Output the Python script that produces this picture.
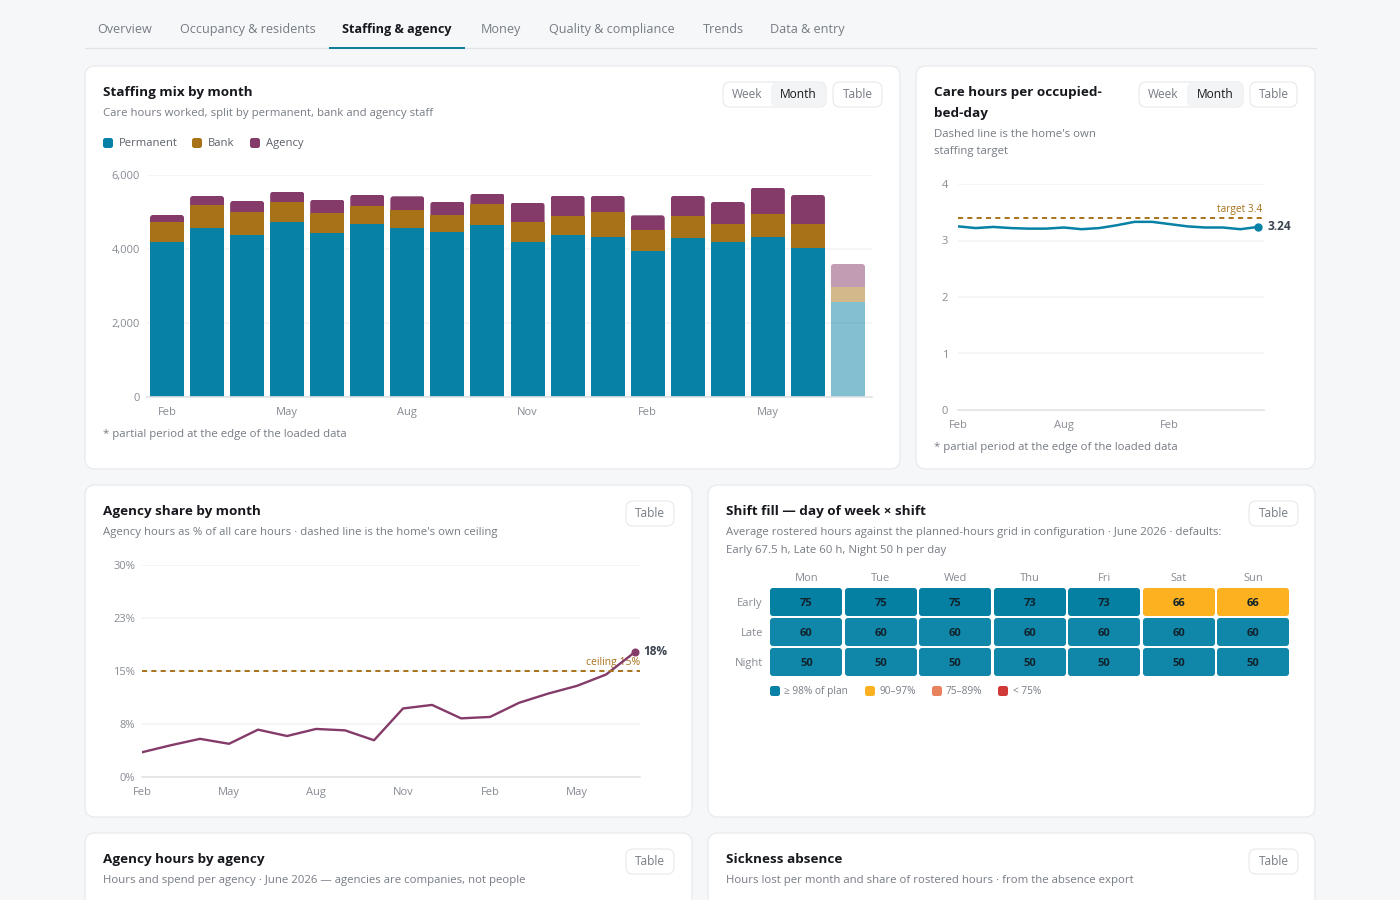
import numpy as np, pandas as pd, seaborn as sns
import matplotlib
matplotlib.use("Agg")
import matplotlib.pyplot as plt
from matplotlib.patches import FancyBboxPatch, Rectangle
from matplotlib.path import Path
from matplotlib.colors import ListedColormap, BoundaryNorm

months = ["Feb","Mar","Apr","May","Jun","Jul","Aug","Sep","Oct","Nov","Dec","Jan","Feb","Mar","Apr","May","Jun","Jul"]
permanent = [4198,4576,4387,4738,4441,4684,4576,4460,4649,4198,4387,4325,3954,4290,4198,4333,4036,2568]
bank = [541,614,622,541,541,470,478,468,560,541,505,668,551,595,470,605,632,405]
agency = [181,243,289,270,351,314,370,351,287,514,549,441,405,549,603,719,792,622]
care_hours = [3.25,3.22,3.24,3.22,3.21,3.21,3.23,3.20,3.22,3.27,3.33,3.33,3.29,3.25,3.23,3.23,3.20,3.24]
agency_share = [3.5,4.5,5.4,4.7,6.7,5.8,6.8,6.6,5.2,9.7,10.2,8.3,8.5,10.5,11.8,12.9,14.5,17.7]
days = ["Mon","Tue","Wed","Thu","Fri","Sat","Sun"]
shifts = ["Early","Late","Night"]
shift_hours = [[75,75,75,73,73,66,66],[60]*7,[50]*7]
plan_hours = [67.5,60,50]
tabs = ["Overview","Occupancy & residents","Staffing & agency","Money","Quality & compliance","Trends","Data & entry"]

TEAL, GOLD, PLUM = "#0781a5", "#a87218", "#843b69"
INK, MUTED, TICK = "#16181d", "#767c84", "#878c93"
GRID, AXIS, BORDER = "#f1f2f4", "#e1e3e6", "#e6e8eb"
FONT = "Open Sans"

sns.set_theme(style="white")
plt.rcParams["font.family"] = [FONT, "DejaVu Sans"]
fig = plt.figure(figsize=(14, 9), dpi=100, facecolor="#f6f7f9")

bg = fig.add_axes([0, 0, 1, 1], zorder=0)
bg.set_xlim(0, 1400); bg.set_ylim(900, 0); bg.axis("off")

def T(x, y, s, size=8.2, color=MUTED, weight="normal", ha="left"):
    bg.text(x, y + 0.8, s, fontsize=size, color=color, weight=weight, ha=ha, va="center")

def box(x0, y0, x1, y1, r=10, fc="white", ec=BORDER, lw=0.8):
    p = FancyBboxPatch((x0, y0), x1 - x0, y1 - y0, boxstyle=f"round,pad=0,rounding_size={r}",
                       fc=fc, ec=ec, lw=lw)
    bg.add_patch(p)
    return p

def round_path(x0, y0, x1, y1, r):
    return FancyBboxPatch((x0, y0), x1 - x0, y1 - y0,
                          boxstyle=f"round,pad=0,rounding_size={r}").get_path()

def to_px(ax, x, y):
    return bg.transData.inverted().transform(ax.transData.transform((x, y)))

def table_btn(x0, y0, x1):
    box(x0, y0, x1, y0 + 25, r=7)
    T((x0 + x1) / 2, y0 + 12, "Table", 8.6, MUTED, ha="center")

def seg(x0, xm, x1, y0):
    box(x0, y0, x1, y0 + 25, r=7)
    box(xm, y0 + .5, x1 - .5, y0 + 24.5, r=6, fc="#f3f4f5", ec="none")
    T((x0 + xm) / 2, y0 + 12, "Week", 8.6, MUTED, ha="center")
    T((xm + x1) / 2, y0 + 12, "Month", 8.6, INK, ha="center")

def px_ax(l, t, r, b):
    a = fig.add_axes([l / 1400, 1 - b / 900, (r - l) / 1400, (b - t) / 900], zorder=2)
    a.patch.set_alpha(0)
    for s in ("top", "left", "right"):
        a.spines[s].set_visible(False)
    a.spines["bottom"].set_color(AXIS); a.spines["bottom"].set_linewidth(1.2)
    a.grid(axis="y", color=GRID, lw=1.1); a.grid(axis="x", visible=False); a.set_axisbelow(True)
    a.tick_params(axis="both", length=0, labelsize=8, labelcolor=TICK)
    a.set_xlabel(""); a.set_ylabel("")
    return a

# tabs
tab_x = [97, 180, 342, 481, 549, 703, 770]
for i, (x, s) in enumerate(zip(tab_x, tabs)):
    T(x, 29, s, 9.1, INK if i == 2 else MUTED, "bold" if i == 2 else "normal")
bg.plot([85, 1316], [48, 48], color="#dfe2e6", lw=.9)
bg.add_patch(Rectangle((329, 47), 136, 2, fc="#0e7f96", ec="none", zorder=3))

# cards
box(85, 66, 900, 469); box(916, 66, 1315, 469)
box(85, 485, 692, 817); box(708, 485, 1315, 817)
box(85, 833, 692, 930); box(708, 833, 1315, 930)

seg(723, 771, 826, 82); table_btn(833, 82, 882)
seg(1139, 1187, 1243, 82); table_btn(1250, 82, 1297)
table_btn(626, 501, 674); table_btn(1249, 501, 1298)
table_btn(626, 849, 674); table_btn(1249, 849, 1298)

TS, SS = 9.7, 8.2
T(103, 92, "Staffing mix by month", TS, INK, "bold")
T(103, 113, "Care hours worked, split by permanent, bank and agency staff", SS)
T(934, 92, "Care hours per occupied-", TS, INK, "bold")
T(934, 113, "bed-day", TS, INK, "bold")
T(934, 134, "Dashed line is the home's own", SS)
T(934, 151, "staffing target", SS)
T(103, 511, "Agency share by month", TS, INK, "bold")
T(103, 532, "Agency hours as % of all care hours · dashed line is the home's own ceiling", SS)
T(726, 511, "Shift fill — day of week × shift", TS, INK, "bold")
T(726, 532, "Average rostered hours against the planned-hours grid in configuration · June 2026 · defaults:", SS)
T(726, 550, "Early 67.5 h, Late 60 h, Night 50 h per day", SS)
T(103, 859, "Agency hours by agency", TS, INK, "bold")
T(103, 880, "Hours and spend per agency · June 2026 — agencies are companies, not people", SS)
T(726, 859, "Sickness absence", TS, INK, "bold")
T(726, 880, "Hours lost per month and share of rostered hours · from the absence export", SS)
T(103, 434, "* partial period at the edge of the loaded data", SS)
T(934, 447, "* partial period at the edge of the loaded data", SS)

for x, tx, c, s in [(103, 119, TEAL, "Permanent"), (192, 208, GOLD, "Bank"), (250, 266, PLUM, "Agency")]:
    box(x, 138, x + 10, 148, r=2.5, fc=c, ec="none")
    T(tx, 143, s, 8.1, "#5b6068")

# stacked bars
a1 = px_ax(147, 175, 872, 397)
idx = list(range(len(months)))
perm, bnk, agn = np.array(permanent), np.array(bank), np.array(agency)
for vals, bottom, col in [(perm, 0 * perm, TEAL), (bnk, perm, GOLD), (agn, perm + bnk, PLUM)]:
    sns.barplot(x=idx, y=vals, bottom=bottom, color=col, saturation=1, width=0.85, ax=a1,
                native_scale=True, legend=False, linewidth=0)
for s in range(3):
    a1.patches[s * 18 + 17].set_alpha(0.5)
a1.set_xlim(-0.5, 17.6); a1.set_ylim(0, 6000)
a1.set_yticks([0, 2000, 4000, 6000], ["0", "2,000", "4,000", "6,000"])
a1.set_xticks(idx[::3], months[::3])
a1.tick_params(axis="x", pad=7); a1.tick_params(axis="y", pad=5)
# rounded tops, clipping the bars seaborn drew
for p in a1.patches[36:]:
    (xa, ya) = to_px(a1, p.get_x(), p.get_y() + p.get_height())
    (xb, yb) = to_px(a1, p.get_x() + p.get_width(), p.get_y())
    p.set_clip_path(round_path(xa, ya, xb, yb + 10, 3), bg.transData)

# care hours
a2 = px_ax(958, 184, 1264, 410)
sns.lineplot(x=idx, y=care_hours, color=TEAL, lw=1.8, ax=a2)
a2.axhline(3.4, color=GOLD, lw=1.4, dashes=(2.6, 2.2), xmax=304 / 306)
a2.plot(idx[-1], care_hours[-1], "o", color=TEAL, ms=5, clip_on=False)
a2.set_xlim(0, 17.34); a2.set_ylim(0, 4)
a2.set_yticks([0, 1, 2, 3, 4]); a2.set_xticks(idx[::6], months[::6])
a2.tick_params(axis="x", pad=7); a2.tick_params(axis="y", pad=7)
T(1262, 208.5, "target 3.4", 7.3, GOLD, ha="right")
T(1267, 226, "3.24", 8.6, "#3c4450", "bold")

# agency share
a3 = px_ax(142, 565, 640, 777)
sns.lineplot(x=idx, y=agency_share, color=PLUM, lw=1.7, ax=a3)
a3.axhline(15, color=GOLD, lw=1.4, dashes=(2.6, 2.2))
a3.plot(idx[-1], agency_share[-1], "o", color=PLUM, ms=4.8, clip_on=False)
a3.set_xlim(0, 17.17); a3.set_ylim(0, 30)
a3.set_yticks([0, 7.5, 15, 22.5, 30], ["0%", "8%", "15%", "23%", "30%"])
a3.set_xticks(idx[::3], months[::3])
a3.tick_params(axis="x", pad=7); a3.tick_params(axis="y", pad=5)
T(640, 661.5, "ceiling 15%", 7.5, GOLD, ha="right")
T(643, 651, "18%", 8.6, "#3c4450", "bold")

# heatmap
hours = np.array(shift_hours, float)
ratio = hours / np.array(plan_hours)[:, None]
tier = np.select([ratio > 1, ratio >= .98, ratio >= .90, ratio >= .75], [4, 3, 2, 1], 0)
tier_cols = ["#d23a3a", "#e8825d", "#fbb120", "#1087a8", "#0580a3"]
a4 = fig.add_axes([769.2 / 1400, 1 - 677 / 900, 521 / 1400, 90 / 900], zorder=2)
sns.heatmap(tier, cmap=ListedColormap(tier_cols), norm=BoundaryNorm(np.arange(-.5, 5), 5), cbar=False,
            annot=hours.astype(int), fmt="d", annot_kws={"fontsize": 8, "weight": "bold", "color": "#10222c"},
            linewidths=0, xticklabels=days, yticklabels=shifts, ax=a4)
a4.xaxis.tick_top()
a4.tick_params(axis="both", length=0, labelsize=8, labelcolor=TICK, pad=2)
a4.tick_params(axis="y", labelrotation=0, pad=4.5); a4.tick_params(axis="x", labelrotation=0)
a4.set_yticks([.55, 1.55, 2.55], shifts)
a4.set_xlabel(""); a4.set_ylabel("")
for t in a4.texts:
    t.set_y(t.get_position()[1] + .05)
cells = []
for i in range(tier.shape[0]):
    for j in range(tier.shape[1]):
        xa, ya = to_px(a4, j, i); xb, yb = to_px(a4, j + 1, i + 1)
        cells.append(round_path(xa + 1.2, ya + 1, xb - 1.2, yb - 1, 3))
a4.collections[0].set_clip_path(Path.make_compound_path(*cells), bg.transData)
for x, tx, c, s in [(770, 784, "#0781a5", "≥ 98% of plan"), (865, 879, "#fbb120", "90–97%"),
                    (932, 946, "#e8825d", "75–89%"), (998, 1013, "#d23a3a", "< 75%")]:
    box(x, 686, x + 10, 696, r=2.5, fc=c, ec="none")
    T(tx, 691, s, 7.3, MUTED)

fig.savefig("out.png", dpi=100, facecolor=fig.get_facecolor())
